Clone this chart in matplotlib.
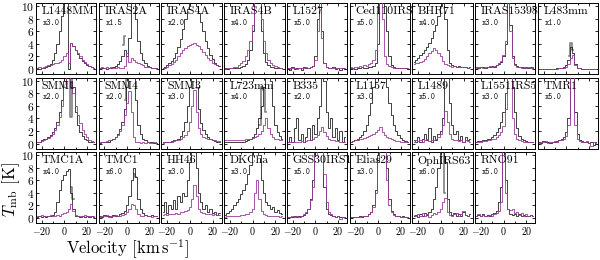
import numpy as np
import matplotlib.pyplot as plt
from matplotlib.ticker import MultipleLocator

plt.rcParams['font.family'] = 'cmr10'
plt.rcParams['mathtext.fontset'] = 'cm'
plt.rcParams['axes.formatter.use_mathtext'] = True

# velocity channels (km/s)
vel = np.arange(-24, 27, 2)

names = ['L1448MM', 'IRAS2A', 'IRAS4A', 'IRAS4B', 'L1527', 'Ced110IRS4', 'BHR71', 'IRAS15398', 'L483mm',
         'SMM1', 'SMM4', 'SMM3', 'L723mm', 'B335', 'L1157', 'L1489', 'L1551IRS5', 'TMR1',
         'TMC1A', 'TMC1', 'HH46', 'DKCha', 'GSS30IRS1', 'Elias29', 'OphIRS63', 'RNO91']
factors = [3.0, 1.5, 2.0, 4.0, 5.0, 5.0, 4.0, 3.0, 1.0,
           2.0, 2.0, 3.0, 4.0, 2.0, 3.0, 5.0, 3.0, 5.0,
           4.0, 6.0, 3.0, 3.0, 5.0, 3.0, 6.0, 5.0]

# scaled spectrum (black)
main_spec = [
    [0.1,0.0,0.2,0.1,0.3,0.5,0.8,1.5,2.5,4,6,8.5,11,12,0,4.2,3.6,3,2.4,1.8,1.3,1,0.7,0.5,0.3,0.2],
    [0.1,0.2,0.1,0.0,0.1,0.2,0.3,0.5,0.8,1.3,2,3,2,5,11,12,8,4.5,2.5,1.4,0.9,0.5,0.3,0.2,0.1,0.1],
    [0.2,0.4,0.6,0.9,1.3,1.8,2.5,3.5,4.8,6.3,8,9.5,11,12,11,10,9,7.5,6,4.5,3.3,2.3,1.6,1,0.7,0.5],
    [0.1,0.0,0.1,0.1,0.1,0.2,0.2,0.3,0.5,0.8,1.5,3,6,11,12,11,6,2.5,1.2,0.7,0.4,0.3,0.2,0.2,0.1,0.1],
    [0.2,-0.1,0.3,0.0,0.2,0.1,-0.1,0.3,0.1,0.2,0.3,0.5,2,8,12,6,1,0.3,0.2,0.1,0.3,0.0,0.2,-0.1,0.2,0.0],
    [0.1,0.2,0.0,0.2,0.1,0.3,0.1,0.2,0.4,0.3,0.5,1,4,12,12,10,6,2,0.6,0.3,0.2,0.1,0.2,0.1,0.2,0.0],
    [1.2,1.5,1.8,2.2,2.6,3,3.5,4.2,5,6,7,8.5,10,11,8,3,1,0.6,0.5,0.4,0.5,0.3,0.4,0.3,0.2,0.3],
    [0.3,0.2,0.4,0.3,0.2,0.4,0.3,0.5,0.4,0.6,0.8,1.2,2,4,12,7,2,0.8,0.5,0.3,0.4,0.2,0.3,0.2,0.3,0.2],
    [0,0,0,0,0,0,0,0,0.1,0.1,0.2,0.3,0.6,1.5,3.5,2.6,0.8,0.2,0.1,0,0,0,0,0,0,0],
    [0.2,0.3,0.5,0.7,0.8,1,1.3,1.8,2.5,3.5,5,7,10,12,11,9,9,5,3,1.8,1.2,0.8,0.5,0.3,0.2,0.2],
    [0.1,0.2,0.2,0.3,0.3,0.5,0.7,1,1.5,2.3,3.5,5.5,9,12,12,11,7,3,1.5,0.8,0.5,0.3,0.2,0.2,0.1,0.1],
    [0.2,0.2,0.3,0.3,0.4,0.5,0.6,0.8,1.2,2,3.5,6,9,12,12,9,5.5,3.3,2.2,1.5,1,0.7,0.5,0.4,0.3,0.3],
    [0.2,0.3,0.2,0.3,0.2,0.3,0.2,0.3,0.3,0.4,0.5,0.7,1,1.5,2.5,4,6,9,12,12,10,6,3,1.8,1.2,0.8],
    [0.3,1,0.2,2.5,4,0.5,1.5,0.3,1,2.5,0.5,3,1.5,4,6,12,10,5,2.5,4,1,2.5,0.5,2,0.3,1],
    [0.3,0.4,0.5,0.7,1,1.4,2,3,4.5,6.5,9,12,12,12,12,11,9,6.5,4.5,3,2,1.3,0.9,0.6,0.4,0.3],
    [0.5,0.2,1,0.3,0.8,1.5,0.5,2.5,0.3,1.2,0.5,1.5,2,4,12,12,6.5,3,1.5,2,0.5,1.2,0.3,1,0.5,0.8],
    [0.3,0.4,0.4,0.5,0.6,0.7,0.8,1,1.3,1.8,2.5,3.5,5,8,12,12,9,5,2.5,1.2,0.7,0.5,0.4,0.3,0.3,0.3],
    [0.2,0.1,0.4,0.2,0.3,0.1,0.3,0.2,0.4,0.5,0.7,1,1.8,4,12,12,5,1.5,0.6,0.4,0.2,0.3,0.1,0.3,-0.2,0.2],
    [0.2,0.3,0.1,0.3,0.2,0.3,0.4,0.5,1,2.5,4.5,6,6.8,7.5,7.8,4,1.5,0.4,0.3,0.2,0.3,0.1,0.3,0.2,0.3,0.2],
    [0.3,0.2,0.5,0.3,0.4,0.2,0.5,0.3,0.4,0.6,0.8,1.2,2,3.5,6,8,6.5,3,1.5,0.8,0.5,0.4,0.3,0.5,0.3,0.4],
    [1,2.5,0.8,2,1.5,2.8,1.5,3.5,2.5,4,3.5,6,9,12,12,8,4,2.5,1.5,2,1,1.5,0.8,1,0.5,0.8],
    [0.5,0.8,1.2,1.5,2,2.5,3,3.8,4.5,5.5,7,8.5,11,12,12,10,6,4,2.5,2,1.5,1.8,1,1.3,0.8,0.6],
    [0.1,0.2,0.1,0.3,0.2,0.3,0.3,0.5,0.8,1.5,3,6,12,12,12,12,5,1.5,0.7,0.5,0.3,0.2,0.3,0.2,0.1,0.2],
    [0.1,0.2,0.1,0.2,0.3,0.2,0.3,0.4,0.6,1,2,4.5,10,12,12,12,8,3,1.2,0.6,0.4,0.3,0.2,0.3,0.2,0.2],
    [0.3,0.5,0.2,0.6,0.3,0.8,0.5,1,1.5,3,5,8,12,12,9,3,1,0.5,0.8,0.4,0.6,0.3,1,0.5,0.4,0.6],
    [0.3,0.5,0.4,0.6,0.3,0.5,0.4,0.6,0.8,1.2,2.5,5,12,6,1.5,0.6,0.5,0.7,0.4,0.6,0.3,0.5,0.4,0.3,0.5,0.4],
]

# second line (purple)
purple_spec = [
    [0.2,0.3,0.2,0.4,0.5,0.6,0.7,0.8,0.9,1.0,1.2,1.5,2,2.5,1,4.2,3.6,3,2.5,2,1.5,1.2,0.8,0.5,0.3,0.2],
    [0.2,0.3,0.2,0.3,0.2,0.3,0.2,0.2,0.3,0.2,0.1,0.5,2.5,1.2,1.8,1.5,1.2,1.0,0.8,0.6,0.4,0.3,0.3,0.2,0.2,0.1],
    [0.1,0.2,0.4,0.6,0.8,1.1,1.5,2,2.5,3,3.4,3.6,3.8,4,4.1,3.9,3.6,3.2,2.7,2.2,1.8,1.4,1,0.8,0.6,0.5],
    [0.0,0.1,0.1,0.2,0.3,0.4,0.6,0.9,1.3,2,3,4.5,7,11,12,11,8,4.5,2.5,1.5,1,0.7,0.5,0.3,0.2,0.1],
    [0.1,0.2,0.1,0.2,0.0,0.2,0.1,0.2,0.3,0.2,0.3,0.5,1.5,6,12,5,1,0.3,0.2,0.2,0.1,0.2,0.1,0.2,0.1,0.1],
    [0.3,0.2,0.4,0.3,0.5,0.4,0.6,0.5,0.8,1,1.5,3,10,12,8,2,0.8,0.5,0.3,0.2,0.1,0.2,0.1,0.2,0.1,0.1],
    [0.8,1,1,1.1,1.3,1.6,2,2.5,2.8,3.3,3,2.5,2,1.3,0.8,0.6,0.5,0.4,0.5,0.4,0.3,0.4,0.3,0.3,0.2,0.3],
    [0.2,0.4,0.3,0.2,0.4,0.3,0.5,0.4,0.5,0.7,0.9,1.3,2.2,4.5,11,6,1.8,0.6,0.4,0.3,0.2,0.3,0.2,0.3,0.2,0.3],
    [0,0,0,0,0,0,0,0,0,0.1,0.1,0.2,0.3,0.8,1.8,2.2,0.7,0.2,0.1,0,0,0,0,0,0,0],
    [0.2,0.3,0.4,0.5,0.7,0.9,1.2,1.6,2.2,3,4.2,6,9,12,12,10,8,6,4.5,3.2,2.2,1.5,1,0.6,0.4,0.3],
    [0.2,0.3,0.3,0.4,0.5,0.6,0.8,1,1.4,2,3,4.5,6.5,8.3,5,1,0.3,0.2,0.1,0.2,0.1,0.2,0.1,0.1,0.2,0.1],
    [0.1,0.2,0.2,0.3,0.3,0.4,0.5,0.6,0.8,1,1.4,2,3.5,6,8.5,5,2.5,1.5,1.1,0.9,0.8,0.7,0.6,0.5,0.4,0.4],
    [0.5,0.6,0.5,0.6,0.5,0.6,0.5,0.6,0.6,0.7,0.7,0.8,0.9,1,1.2,1.5,2,3,4,2.5,1.5,1,0.8,0.7,0.6,0.6],
    [0.2,0.3,0.2,0.3,0.2,0.3,0.4,0.3,0.4,0.5,0.6,0.8,1,1.4,2,2.6,1.8,1.2,0.8,0.6,0.5,0.4,0.4,0.3,0.3,0.3],
    [0.3,0.4,0.5,0.6,0.7,0.8,0.9,1,1.2,1.4,1.6,1.9,2.2,2.6,1.8,1.4,1.1,0.9,0.7,0.5,0.4,0.4,0.3,0.3,0.2,0.2],
    [0.3,0.5,0.4,0.6,0.3,0.5,0.7,0.4,0.6,0.5,0.8,1,1.5,3,5.2,3.5,1.5,0.8,0.5,0.6,0.4,0.5,0.3,0.5,0.4,0.3],
    [0.2,0.3,0.3,0.4,0.4,0.5,0.6,0.7,0.8,1,1.3,1.8,2.8,5.5,12,12,4,1.5,0.8,0.5,0.4,0.3,0.3,0.2,0.2,0.2],
    [0.1,0.3,0.2,0.4,0.1,0.3,0.2,0.4,0.3,0.5,0.6,0.8,1.2,3,11,12,3,0.8,0.4,0.3,0.2,0.4,0.1,-0.4,0.2,0.1],
    [0.4,0.3,0.5,0.3,0.4,0.3,0.5,0.4,0.3,0.5,0.4,0.6,0.8,1,1.5,2.2,1.2,0.5,0.3,0.4,0.3,0.5,0.3,0.4,0.3,0.4],
    [0.2,0.4,0.3,0.5,0.2,0.4,0.3,0.5,0.3,0.4,0.5,0.6,0.9,1.5,2.2,2,1.4,0.7,0.4,0.3,0.5,0.3,0.4,0.2,0.4,0.3],
    [0.5,0.6,0.5,0.7,0.6,0.7,0.8,0.7,0.9,1,1.1,1.3,1.8,3,5.3,3.5,1.5,1,0.8,0.7,0.6,0.6,0.5,0.6,0.5,0.5],
    [0.2,0.3,0.3,0.4,0.3,0.4,0.4,0.5,0.5,0.6,0.7,0.9,1.5,4,6,3,1.2,0.7,0.5,0.4,0.4,0.3,0.3,0.3,0.2,0.3],
    [0.2,0.1,0.3,0.2,0.3,0.2,0.4,0.6,0.9,1.5,2.8,5,10,12,12,12,7,2.5,1,0.6,0.4,0.2,0.3,-0.2,0.2,0.1],
    [0.2,0.2,0.1,0.2,0.2,0.3,0.3,0.4,0.6,0.9,1.8,4,9,12,12,12,6,2,0.9,0.5,0.3,0.3,0.2,0.2,0.2,0.1],
    [0.5,0.3,0.7,0.4,0.8,0.3,0.6,0.2,0.5,0.8,0.6,1,1.5,2.5,3.2,1,0.5,0.3,0.6,0.8,0.4,0.6,1.2,0.5,0.4,0.6],
    [0.4,0.6,0.3,0.5,0.4,0.3,0.5,0.4,0.6,0.8,1.2,2.5,12,4,1.5,1.3,1.4,0.8,0.9,0.5,0.8,0.4,0.6,0.3,0.5,0.4],
]

# narrow grey components near line centre: first velocity, then values
gray_start = {1: -4, 4: 2, 5: 0, 8: 2, 9: 2, 10: -2, 12: 6, 14: 0,
              15: 4, 18: 6, 19: 6, 24: 0}
gray_spec = {1: [3.8, 5.3], 4: [11, 12, 11], 5: [11, 12, 11], 8: [2, 4.2, 3],
             9: [12, 12, 4.3, 12], 10: [7, 11, 12, 12], 12: [3, 9, 8.5, 5],
             14: [11, 12, 12], 15: [12, 12], 18: [5, 3], 19: [7, 6.5], 24: [12, 12, 4]}

fig, axes = plt.subplots(3, 9, figsize=(6, 2.6), dpi=100, sharex=True, sharey=True)
fig.subplots_adjust(left=0.06, right=0.997, top=0.988, bottom=0.142, wspace=0.04, hspace=0.05)

for i, ax in enumerate(axes.flat):
    if i >= len(names):
        ax.axis('off')
        continue
    ax.step(vel, main_spec[i], where='mid', color='#222222', lw=0.6, zorder=3)
    if i in gray_spec:
        gv = gray_start[i] + 2 * np.arange(len(gray_spec[i]))
        ax.step(gv, gray_spec[i], where='mid', color='#808080', lw=1.2, zorder=2)
    ax.step(vel, purple_spec[i], where='mid', color='#9a3a9a', lw=0.6, zorder=4)
    ax.text(0.09, 0.95, names[i], transform=ax.transAxes, fontsize=8.5, va='top', ha='left',
            zorder=6)
    ax.text(0.11, 0.72, 'x%.1f' % factors[i], transform=ax.transAxes, fontsize=5.8,
            va='center', ha='left', family='cmtt10', zorder=6)
    ax.set_xlim(-25, 28)
    ax.set_ylim(-0.8, 10.5)
    ax.xaxis.set_major_locator(MultipleLocator(20))
    ax.xaxis.set_minor_locator(MultipleLocator(10))
    ax.yaxis.set_major_locator(MultipleLocator(2))
    ax.tick_params(which='both', direction='in', top=True, right=True, labelsize=7.2,
                   length=2.5, width=0.6, pad=1.5)
    ax.tick_params(axis='y', labelsize=8.3)
    ax.tick_params(which='minor', length=1.5)
    for s in ax.spines.values():
        s.set_linewidth(0.7)

# TMR1 has no panel underneath, but its velocity labels are not shown
for lbl in axes[1, 8].get_xticklabels():
    lbl.set_visible(False)

fig.text(0.018, 0.27, r'$T_{\rm mb}$ [K]', rotation=90, fontsize=12, ha='center', va='center')
fig.text(0.213, 0.042, r'Velocity [km$\,$s$^{-1}$]', fontsize=12, ha='center', va='center')

fig.savefig('out.png', dpi=100)
